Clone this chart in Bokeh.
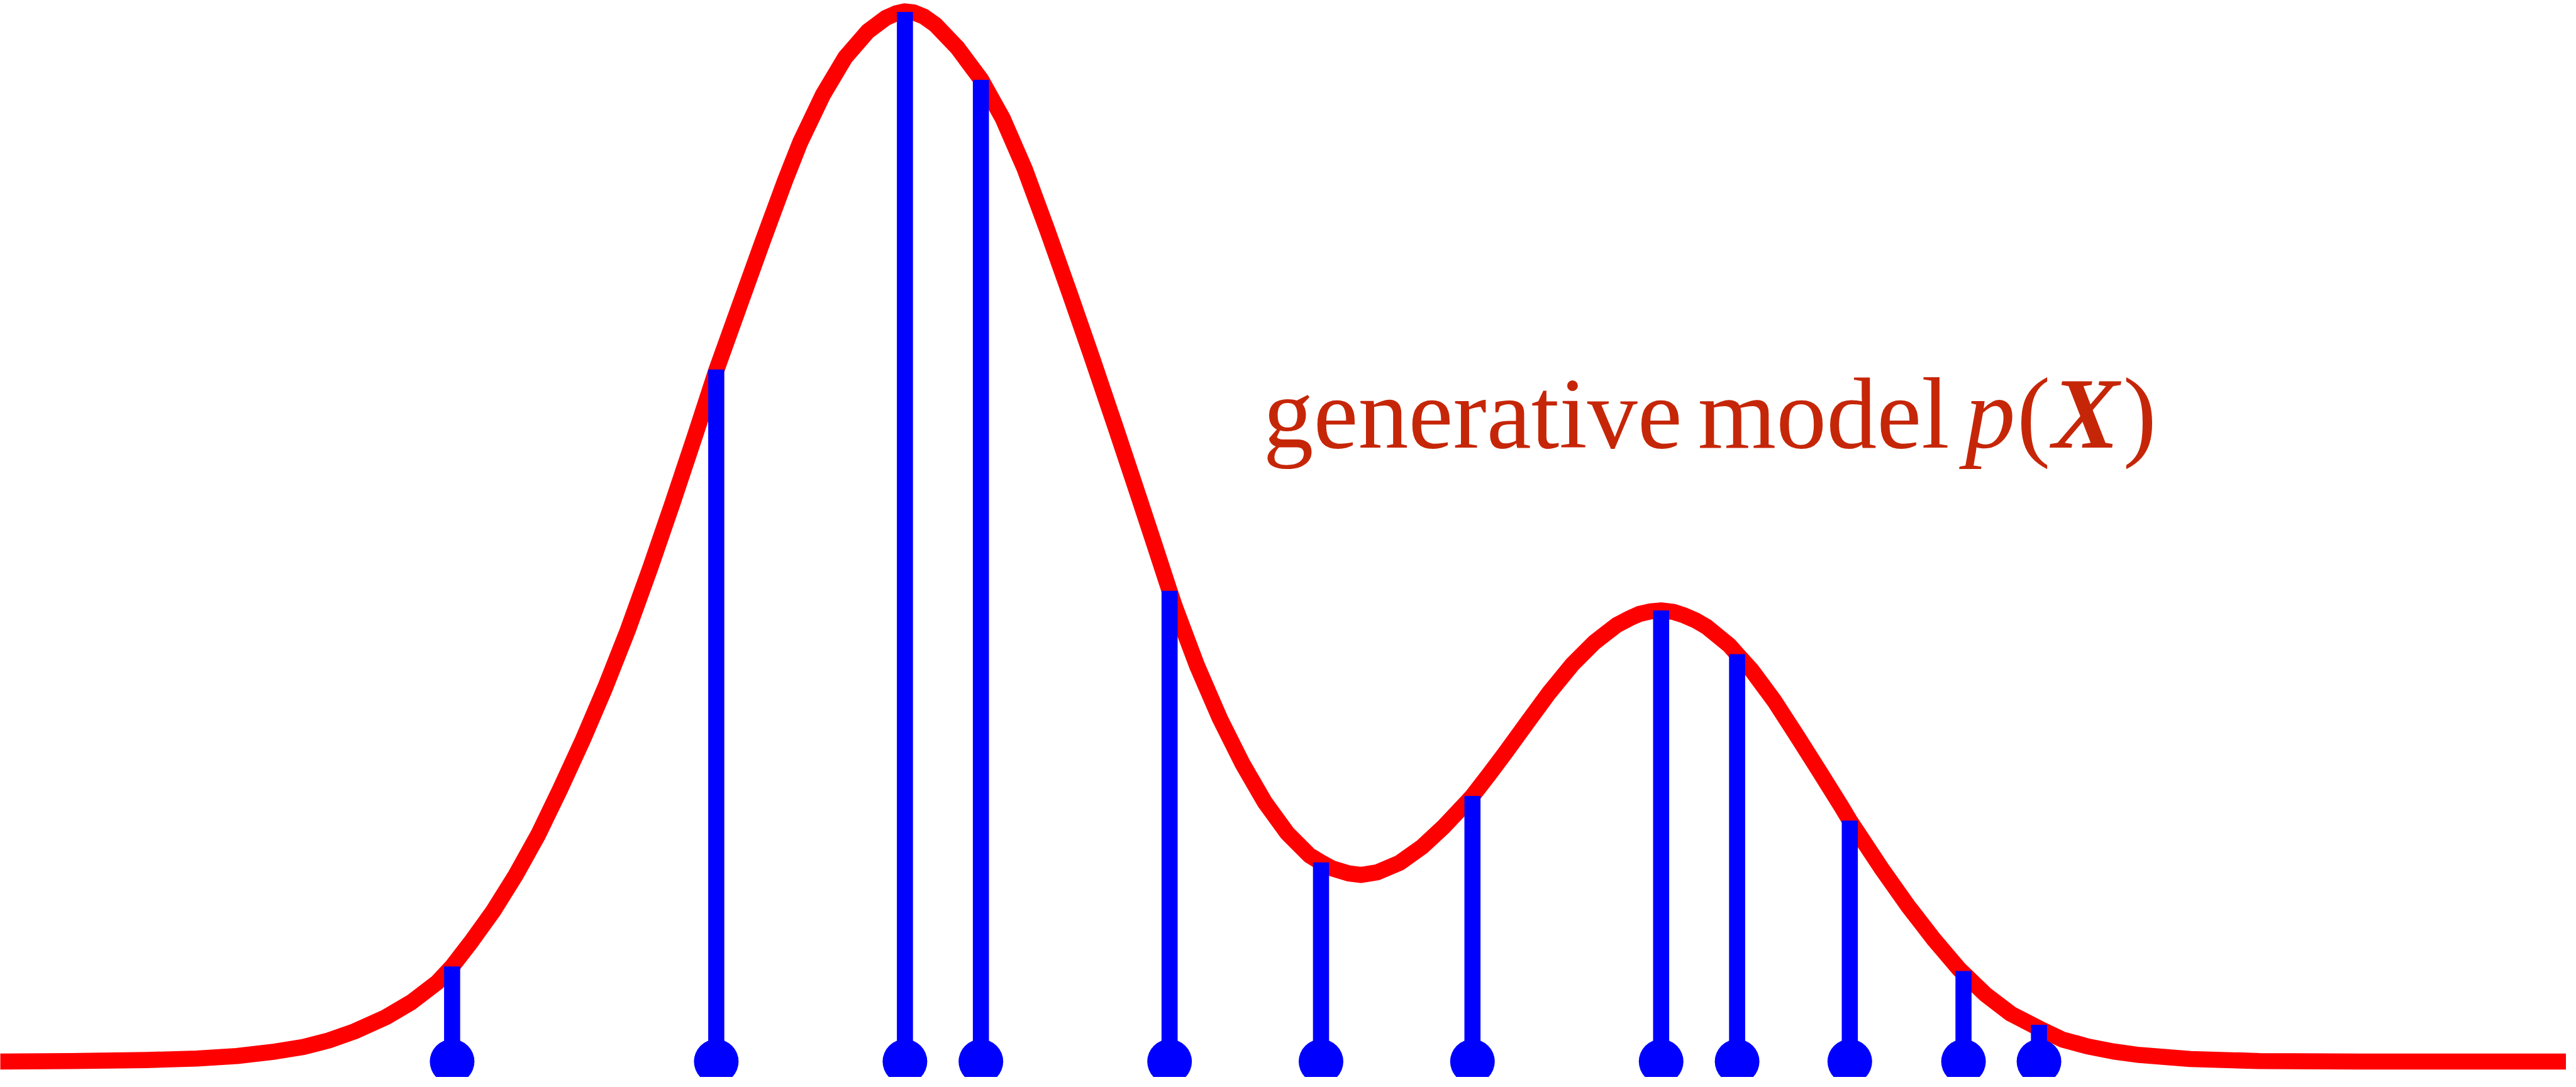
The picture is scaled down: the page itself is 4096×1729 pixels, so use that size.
from bokeh.plotting import figure
from bokeh.models import Range1d
from bokeh.embed import file_html
from bokeh.resources import INLINE
from bokeh.core.properties import value

# ---- data (x in hundreds of px, density height) ----
curve_x = [0.00, 1.50, 3.00, 4.00, 4.80, 5.50, 6.12, 6.63, 7.14, 7.76, 8.27, 8.78,
           9.08, 9.45, 9.89, 10.34, 10.79, 11.23, 11.68, 12.12, 12.57, 13.02,
           13.46, 13.91, 14.33, 14.80, 15.25, 15.70, 16.00, 16.45, 16.89, 17.34,
           17.70, 17.90, 18.08, 18.25, 18.45, 18.68, 19.12, 19.59, 20.02, 20.46,
           20.91, 21.36, 21.80, 22.25, 22.70, 23.00, 23.34, 23.45, 23.89, 24.34,
           24.79, 25.23, 25.68, 26.12, 26.35, 26.57, 26.90, 27.15, 27.46, 27.91,
           28.36, 28.80, 29.25, 29.36, 29.70, 30.00, 30.45, 30.89, 31.34, 31.79,
           32.23, 32.50, 32.68, 32.90, 33.11, 33.35, 33.57, 33.80, 34.02, 34.46,
           34.62, 34.91, 35.36, 35.80, 36.25, 36.70, 36.86, 37.00, 37.51, 38.02,
           38.53, 39.04, 39.55, 40.06, 40.62, 41.08, 41.59, 42.10, 42.61, 43.63,
           45.00, 47.00, 51.20]
curve_y = [0.00, 0.01, 0.03, 0.06, 0.11, 0.19, 0.29, 0.42, 0.60, 0.88, 1.18, 1.57,
           1.89, 2.37, 2.98, 3.70, 4.51, 5.42, 6.40, 7.43, 8.57, 9.82,
           11.10, 12.45, 13.74, 15.05, 16.30, 17.52, 18.28, 19.22, 19.96, 20.48,
           20.75, 20.84, 20.88, 20.86, 20.78, 20.62, 20.16, 19.53, 18.76, 17.75,
           16.53, 15.26, 13.99, 12.66, 11.31, 10.40, 9.36, 9.03, 7.86, 6.82,
           5.92, 5.16, 4.54, 4.10, 3.96, 3.84, 3.74, 3.71, 3.76, 3.95,
           4.27, 4.68, 5.16, 5.28, 5.72, 6.12, 6.74, 7.34, 7.89, 8.34,
           8.68, 8.82, 8.90, 8.95, 8.97, 8.94, 8.87, 8.77, 8.64, 8.28,
           8.10, 7.78, 7.17, 6.49, 5.78, 5.06, 4.79, 4.58, 3.81, 3.09,
           2.43, 1.83, 1.34, 0.95, 0.66, 0.44, 0.30, 0.20, 0.13, 0.05,
           0.01, 0.00, 0.00]

sample_x = [9.08, 14.33, 18.08, 19.59, 23.34, 26.35, 29.36, 33.11, 34.62, 36.86, 39.12, 40.62]
sample_p = [1.89, 13.76, 20.87, 19.52, 9.36, 3.96, 5.28, 8.97, 8.10, 4.79, 1.80, 0.73]
baseline = [0.0] * len(sample_x)

label_words = ["generative", "model"]
label_parts = ["p", "(", "X", ")"]

RED = "#FF0000"
BLUE = "#0000FF"
TEXT = "#C62608"

p = figure(width=4080, height=1713, output_backend="svg", toolbar_location=None,
           x_range=Range1d(0.10, 51.10), y_range=Range1d(-0.3125, 21.10),
           min_border=0, min_border_left=0, min_border_right=0,
           min_border_top=0, min_border_bottom=0)
p.axis.visible = False
p.grid.visible = False
p.outline_line_color = None
p.background_fill_color = "white"
p.border_fill_color = "white"

p.line(curve_x, curve_y, line_color=RED, line_width=25.6, line_join="round")
p.segment(x0=sample_x, y0=baseline, x1=sample_x, y1=sample_p,
          line_color=BLUE, line_width=25.6, line_cap="butt")
p.scatter(sample_x, baseline, size=71, fill_color=BLUE, line_color=None)

font = value("Liberation Serif")
LABEL_Y = 12.88
word_x = [25.20, 33.84]
for t, xx in zip(label_words, word_x):
    p.text(x=[xx], y=[LABEL_Y], text=[t], text_font=font,
           text_font_size="160px", text_color=TEXT, text_align="left",
           text_baseline="alphabetic")
part_x = [39.15, 40.18, 40.88, 42.29]
part_style = ["italic", "normal", "bold italic", "normal"]
for t, xx, st in zip(label_parts, part_x, part_style):
    p.text(x=[xx], y=[LABEL_Y], text=[t], text_font=font, text_font_size="160px",
           text_font_style=st, text_color=TEXT, text_align="left",
           text_baseline="alphabetic")

open("out.html", "w").write(file_html(p, INLINE))
